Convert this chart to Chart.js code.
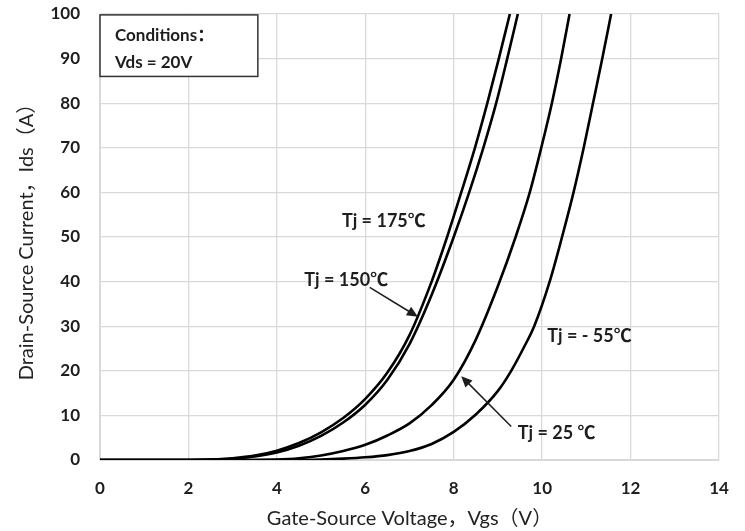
<!DOCTYPE html>
<html>
<head>
<meta charset="utf-8">
<script src="https://cdn.jsdelivr.net/npm/chart.js@4.4.1/dist/chart.umd.min.js"></script>
<style>
  html, body { margin: 0; padding: 0; background: #fff; }
  #wrap { width: 745px; height: 531px; }
</style>
</head>
<body>
<div id="wrap"><canvas id="transfer-chart"></canvas></div>
<script>
// Transfer characteristics - Ids vs Vgs, Vds = 20V

// Tj = 175
var vgs175 = [0, 1, 2, 2.5, 3, 3.5, 4, 4.5, 5, 5.5, 6, 6.5, 7, 7.5, 7.85, 8.17, 8.48, 8.76, 9.02, 9.27];
var ids175 = [0, 0, 0, 0.1, 0.4, 1.0, 2.1, 3.8, 6.2, 9.4, 13.7, 19.6, 28, 40, 50, 60, 70, 80, 90, 100];
// Tj = 150
var vgs150 = [0, 1, 2, 2.5, 3, 3.5, 4, 4.5, 5, 5.5, 6, 6.5, 7, 7.5, 8, 8.35, 8.67, 8.96, 9.21, 9.45];
var ids150 = [0, 0, 0, 0.1, 0.3, 0.8, 1.7, 3.2, 5.4, 8.4, 12.4, 18, 26, 37, 50, 60, 70, 80, 90, 100];
// Tj = 25
var vgs25 = [0, 2, 3, 3.5, 4, 4.5, 5, 5.5, 6, 6.5, 7, 7.5, 8, 8.5, 9, 9.4, 9.72, 9.98, 10.22, 10.43, 10.62];
var ids25 = [0, 0, 0, 0, 0.1, 0.4, 1.0, 2.0, 3.4, 5.5, 8.2, 12.3, 18, 27, 39, 50, 60, 70, 80, 90, 100];
// Tj = -55
var vgsM55 = [0, 2, 4, 4.5, 5, 5.5, 6, 6.5, 7, 7.5, 8, 8.5, 9, 9.3, 9.6, 9.82, 10.17, 10.45, 10.71, 10.94, 11.15, 11.36, 11.56];
var idsM55 = [0, 0, 0, 0, 0.1, 0.3, 0.6, 1.1, 2.0, 3.6, 6.3, 10.2, 15.5, 20, 25.5, 30, 40, 50, 60, 70, 80, 90, 100];

var seriesNames = ["Tj = 175℃", "Tj = 150℃", "Tj = 25℃", "Tj = -55℃"];

// curve labels drawn inside the plot
var noteText = ["Tj = 175℃", "Tj = 150℃", "Tj = ‐ 55℃", "Tj = 25 ℃"];
var noteVgs = [6.42, 5.57, 11.07, 10.33];
var noteIds = [53.5, 40.4, 27.7, 6.0];

var condText = ["Conditions：", "Vds = 20V"];

function pts(xs, ys) {
	var out = [];
	for (var i = 0; i < xs.length; i++) out.push({x: xs[i], y: ys[i]});
	return out;
}

var FONT = "Lato, 'Noto Sans CJK SC', sans-serif";
var INK = "#1e1e1e";

var notesPlugin = {
	id: "notes",
	afterDatasetsDraw: function(chart) {
		var ctx = chart.ctx;
		var xs = chart.scales.x, ys = chart.scales.y;
		ctx.save();

		// conditions box
		var bx0 = xs.getPixelForValue(0), by0 = ys.getPixelForValue(99.8);
		var bx1 = xs.getPixelForValue(3.57), by1 = ys.getPixelForValue(86);
		ctx.fillStyle = "#fff";
		ctx.fillRect(bx0, by0, bx1 - bx0, by1 - by0);
		ctx.strokeStyle = "#333";
		ctx.lineWidth = 1.5;
		ctx.strokeRect(bx0, by0, bx1 - bx0, by1 - by0);
		ctx.fillStyle = INK;
		ctx.font = "bold 17px " + FONT;
		ctx.textAlign = "left";
		ctx.textBaseline = "middle";
		ctx.fillText(condText[0], bx0 + 15, by0 + 21);
		ctx.fillText(condText[1], bx0 + 15, by0 + 48);

		// labels
		ctx.font = "bold 18px " + FONT;
		ctx.textAlign = "center";
		for (var i = 0; i < noteText.length; i++) {
			ctx.fillText(noteText[i], xs.getPixelForValue(noteVgs[i]), ys.getPixelForValue(noteIds[i]));
		}

		// arrows
		var arrows = [[6.10, 38.7, 7.19, 32.1], [9.30, 7.5, 8.17, 18.8]];
		ctx.strokeStyle = INK;
		ctx.lineWidth = 1.5;
		arrows.forEach(function(a) {
			var x0 = xs.getPixelForValue(a[0]), y0 = ys.getPixelForValue(a[1]);
			var x1 = xs.getPixelForValue(a[2]), y1 = ys.getPixelForValue(a[3]);
			var ang = Math.atan2(y1 - y0, x1 - x0);
			var hl = 11, hw = 5;
			ctx.beginPath();
			ctx.moveTo(x0, y0);
			ctx.lineTo(x1 - Math.cos(ang) * hl * 0.8, y1 - Math.sin(ang) * hl * 0.8);
			ctx.stroke();
			ctx.beginPath();
			ctx.moveTo(x1, y1);
			ctx.lineTo(x1 - Math.cos(ang) * hl - Math.sin(ang) * hw, y1 - Math.sin(ang) * hl + Math.cos(ang) * hw);
			ctx.lineTo(x1 - Math.cos(ang) * hl + Math.sin(ang) * hw, y1 - Math.sin(ang) * hl - Math.cos(ang) * hw);
			ctx.closePath();
			ctx.fillStyle = INK;
			ctx.fill();
		});
		ctx.restore();
	}
};

function curve(name, xs, ys) {
	return {
		label: name,
		data: pts(xs, ys),
		borderColor: "#000",
		borderWidth: 2.6,
		pointRadius: 0,
		fill: false,
		cubicInterpolationMode: "monotone"
	};
}

var chart = new Chart(document.getElementById("transfer-chart"), {
	type: "line",
	data: {
		datasets: [
			curve(seriesNames[0], vgs175, ids175),
			curve(seriesNames[1], vgs150, ids150),
			curve(seriesNames[2], vgs25, ids25),
			curve(seriesNames[3], vgsM55, idsM55)
		]
	},
	options: {
		responsive: true,
		maintainAspectRatio: false,
		animation: false,
		layout: { padding: { top: 14, right: 26, left: 0, bottom: 0 } },
		plugins: {
			legend: { display: false },
			tooltip: { enabled: false }
		},
		scales: {
			x: {
				type: "linear",
				min: 0,
				max: 14,
				ticks: {
					stepSize: 2,
					padding: 18,
					color: INK,
					font: { family: FONT, size: 17, weight: "bold" }
				},
				grid: { color: "#d9d9d9", lineWidth: 1.3, drawTicks: false },
				border: { color: "#d9d9d9" },
				title: {
					display: true,
					text: "Gate-Source Voltage，Vgs（V）",
					color: "#222",
					font: { family: FONT, size: 20 },
					padding: { top: 0, bottom: 0 }
				},
				afterFit: function(s) { s.height = 71; s.paddingLeft = 0; s.paddingRight = 0; }
			},
			y: {
				min: 0,
				max: 100,
				ticks: {
					stepSize: 10,
					padding: 20,
					color: INK,
					font: { family: FONT, size: 17, weight: "bold" }
				},
				grid: { color: "#d9d9d9", lineWidth: 1.3, drawTicks: false },
				border: { color: "#d9d9d9" },
				title: {
					display: true,
					text: "Drain-Source Current，Ids（A）",
					color: "#222",
					font: { family: FONT, size: 20 },
					padding: { top: 15, bottom: 0 }
				},
				afterFit: function(s) { s.width = 100; s.paddingTop = 0; s.paddingBottom = 0; }
			}
		}
	},
	plugins: [notesPlugin]
});
</script>
</body>
</html>
